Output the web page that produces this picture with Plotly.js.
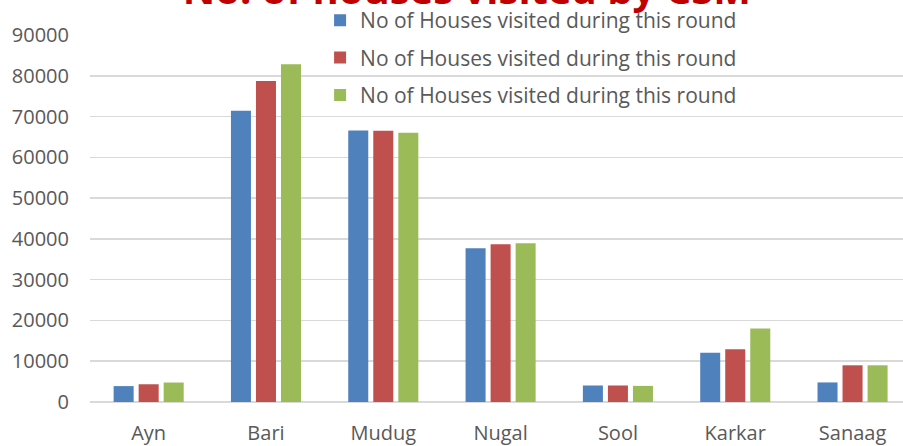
<!DOCTYPE html>
<html><head><meta charset="utf-8">
<script src="https://cdn.plot.ly/plotly-3.0.1.min.js"></script>
<style>html,body{margin:0;padding:0;background:#fff;}#chart{width:903px;height:446px;}</style>
</head><body><div id="chart"></div>
<script>
const categories = ["Ayn","Bari","Mudug","Nugal","Sool","Karkar","Sanaag"];
const seriesNames = ["No of Houses visited during this round","No of Houses visited during this round","No of Houses visited during this round"];
const series1 = [3900, 71400, 66600, 37700, 4050, 12050, 4800];
const series2 = [4350, 78700, 66500, 38700, 4050, 12950, 9000];
const series3 = [4780, 82800, 66000, 38900, 3950, 18000, 9000];
const colors = ["#4F81BD","#C0504D","#9BBB59"];
const yTicks = [0,10000,20000,30000,40000,50000,60000,70000,80000,90000];

const allSeries = [series1, series2, series3];
const traces = allSeries.map((vals, i) => ({
  type: "bar", x: categories, y: vals, name: seriesNames[i],
  legendgroup: "g" + i,
  marker: {color: colors[i], line: {width: 0}},
  hoverinfo: "x+y"
}));

const layout = {
  width: 903, height: 446,
  margin: {l: 90, r: 0, t: 35, b: 44},
  paper_bgcolor: "#fff", plot_bgcolor: "#fff",
  font: {family: "'Open Sans', sans-serif", color: "#595959", size: 20},
  title: {text: "No. of houses visited by CSM", font: {family: "'Open Sans', sans-serif", size: 40, color: "#C00000", weight: "bold"},
          x: 0.517, xanchor: "center", yref: "container", y: 0.99, yanchor: "bottom"},
  barmode: "group", bargap: 0.36, bargroupgap: 0.2,
  xaxis: {type: "category", range: [-0.5, 6.43], showgrid: false, zeroline: false,
          showline: false, ticks: "", ticklabelstandoff: 17, tickfont: {size: 20, color: "#595959"}},
  yaxis: {range: [0, 90000], tickvals: yTicks, ticktext: yTicks.map(String),
          showgrid: true, gridcolor: "#d9d9d9", gridwidth: 1.5,
          zeroline: true, zerolinecolor: "#d9d9d9", zerolinewidth: 2,
          showline: false, ticks: "", ticklabelstandoff: 20, tickfont: {size: 20, color: "#595959"}},
  showlegend: true,
  legend: {x: 0.283, xanchor: "left", y: 1.095, yanchor: "top", bgcolor: "rgba(0,0,0,0)",
           font: {size: 21, color: "#595959"}, tracegroupgap: 7, orientation: "v"}
};
Plotly.newPlot("chart", traces, layout, {displayModeBar: false, staticPlot: true});
</script></body></html>
